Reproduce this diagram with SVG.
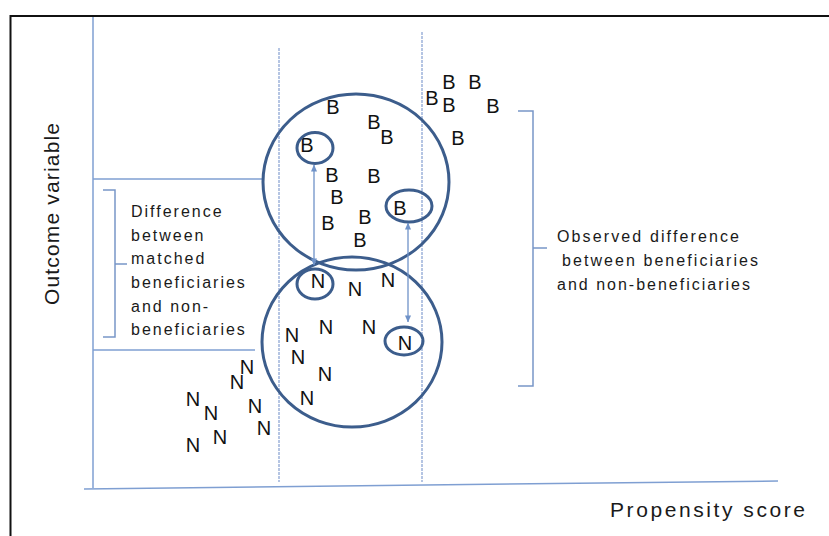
<svg xmlns="http://www.w3.org/2000/svg" width="829" height="536" viewBox="0 0 829 536">
  <defs>
    <marker id="tip" viewBox="0 0 8 8" refX="7.5" refY="4" markerWidth="7" markerHeight="7" orient="auto-start-reverse" markerUnits="userSpaceOnUse">
      <path d="M0,0.5 L8,4 L0,7.5 Z" fill="#6f92c8"/>
    </marker>
    <style>
      .frame { fill: none; stroke: #111; stroke-width: 2; }
      .axis { fill: none; stroke: #7f9fd2; stroke-width: 1.5; }
      .guide { fill: none; stroke: #a3b7dc; stroke-width: 1.6; stroke-dasharray: 3 1; }
      .ring { fill: none; stroke: #3c5d8c; stroke-width: 3; }
      .brace { fill: none; stroke: #7896c8; stroke-width: 1.5; }
      .diff { fill: none; stroke: #6f92c8; stroke-width: 1.3; marker-start: url(#tip); marker-end: url(#tip); }
      .pt { font-family: "Liberation Sans", Arial, sans-serif; font-size: 20px; fill: #111; text-anchor: middle; }
      .lbl { font-family: "Liberation Sans", Arial, sans-serif; font-size: 16px; fill: #1a1a1a; letter-spacing: 2px; }
      .ax { font-family: "Liberation Sans", Arial, sans-serif; font-size: 21px; fill: #1a1a1a; }
    </style>
  </defs>

  <rect width="829" height="536" fill="#fff"/>
  <rect class="frame" x="10.5" y="16" width="900" height="600"/>

  <!-- axes and propensity-range guides -->
  <g id="axes">
    <path class="axis" d="M93,17 V488"/>
    <path class="axis" d="M84,489 L778,481"/>
    <path class="guide" d="M279,48 V482"/>
    <path class="guide" d="M422,32 V482"/>
    <path class="axis" d="M93,179 H263"/>
    <path class="axis" d="M93,350 H255"/>
  </g>

  <g id="axis-labels">
    <text class="ax" transform="translate(59,305) rotate(-90)" textLength="182" lengthAdjust="spacing">Outcome variable</text>
    <text class="ax" x="610" y="517" textLength="195" lengthAdjust="spacing">Propensity score</text>
  </g>

  <!-- beneficiaries cluster -->
  <g id="beneficiaries">
    <ellipse class="ring" cx="356" cy="182" rx="93" ry="88"/>
    <text class="pt" x="333" y="114">B</text>
    <text class="pt" x="374" y="129">B</text>
    <text class="pt" x="387" y="144">B</text>
    <text class="pt" x="307" y="152">B</text>
    <text class="pt" x="458" y="145">B</text>
    <text class="pt" x="432" y="105">B</text>
    <text class="pt" x="449" y="89">B</text>
    <text class="pt" x="475" y="89">B</text>
    <text class="pt" x="449" y="112">B</text>
    <text class="pt" x="493" y="113">B</text>
    <text class="pt" x="332" y="182">B</text>
    <text class="pt" x="374" y="183">B</text>
    <text class="pt" x="337" y="204">B</text>
    <text class="pt" x="400" y="215">B</text>
    <text class="pt" x="328" y="230">B</text>
    <text class="pt" x="365" y="224">B</text>
    <text class="pt" x="360" y="247">B</text>
  </g>
  <g id="matched-b1"><ellipse class="ring" cx="315" cy="148" rx="18" ry="15.5"/></g>
  <g id="matched-b2"><ellipse class="ring" cx="409" cy="206" rx="23" ry="16"/></g>

  <!-- non-beneficiaries cluster -->
  <g id="non-beneficiaries">
    <ellipse class="ring" cx="352" cy="342" rx="90" ry="85"/>
    <text class="pt" x="318" y="288">N</text>
    <text class="pt" x="355" y="296">N</text>
    <text class="pt" x="388" y="287">N</text>
    <text class="pt" x="326" y="334">N</text>
    <text class="pt" x="369" y="334">N</text>
    <text class="pt" x="292" y="342">N</text>
    <text class="pt" x="298" y="364">N</text>
    <text class="pt" x="325" y="381">N</text>
    <text class="pt" x="307" y="405">N</text>
    <text class="pt" x="405" y="350">N</text>
    <text class="pt" x="247" y="374">N</text>
    <text class="pt" x="237" y="389">N</text>
    <text class="pt" x="193" y="406">N</text>
    <text class="pt" x="211" y="420">N</text>
    <text class="pt" x="255" y="413">N</text>
    <text class="pt" x="264" y="435">N</text>
    <text class="pt" x="220" y="444">N</text>
    <text class="pt" x="193" y="452">N</text>
  </g>
  <g id="matched-n1"><ellipse class="ring" cx="315" cy="284" rx="18" ry="15"/></g>
  <g id="matched-n2"><ellipse class="ring" cx="404" cy="341" rx="19" ry="14"/></g>

  <!-- connectors: matched-pair differences -->
  <g id="connectors">
    <path class="diff" d="M314,165 V265"/>
    <path class="diff" d="M408,223 V322"/>
  </g>

  <!-- brackets and their notes -->
  <g id="matched-difference">
    <path class="brace" d="M103,190 H115 V337 H103 M115,264 H127"/>
    <text class="lbl" x="131" y="217">Difference</text>
    <text class="lbl" x="131" y="241">between</text>
    <text class="lbl" x="131" y="264">matched</text>
    <text class="lbl" x="131" y="288">beneficiaries</text>
    <text class="lbl" x="131" y="312">and non-</text>
    <text class="lbl" x="131" y="335">beneficiaries</text>
  </g>
  <g id="observed-difference">
    <path class="brace" d="M518,111 H533 V386 H518 M533,248 H547"/>
    <text class="lbl" x="557" y="242" textLength="182" lengthAdjust="spacing" style="letter-spacing:0">Observed difference</text>
    <text class="lbl" x="562" y="266" textLength="196" lengthAdjust="spacing" style="letter-spacing:0">between beneficiaries</text>
    <text class="lbl" x="557" y="290" textLength="193" lengthAdjust="spacing" style="letter-spacing:0">and non-beneficiaries</text>
  </g>
</svg>
